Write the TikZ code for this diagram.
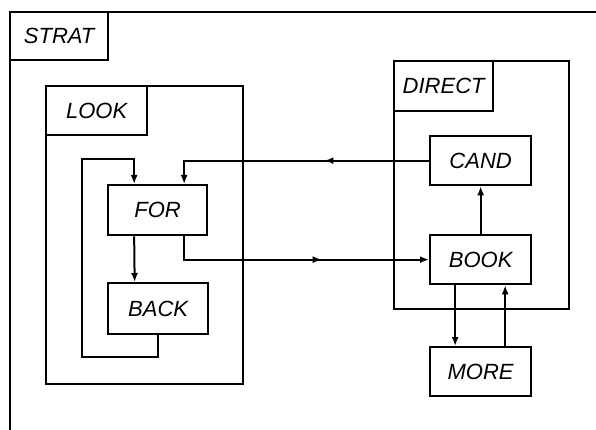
\documentclass[tikz,border=0pt]{standalone}
\usepackage{fontspec}
\setmainfont{Liberation Sans}
\usetikzlibrary{arrows.meta,decorations.markings}
\tikzset{
  every node/.style={font=\fontsize{22}{24}\selectfont\itshape},
  bx/.style={draw, line width=2.3pt, inner sep=0pt, anchor=north west},
  ln/.style={line width=2pt},
  tip/.style={-{Latex[length=9pt,width=7pt]}},
  midarr/.style={postaction={decorate}, decoration={markings, mark=at position #1 with {\arrow{Latex[length=9pt,width=7pt]}}}}
}
\begin{document}
\begin{tikzpicture}[x=1pt,y=-1pt]
\useasboundingbox (0,0) rectangle (596,430);
\clip (0,0) rectangle (596,430);
\fill[white] (0,0) rectangle (596,430);
% containers
\node[bx, minimum width=620pt, minimum height=450pt] (strat) at (9,11) {};
\node[bx, minimum width=98pt, minimum height=48pt] (stratl) at (9,11) {STRAT};
\node[bx, minimum width=197pt, minimum height=298pt] (look) at (45,85) {};
\node[bx, minimum width=101pt, minimum height=49pt] (lookl) at (45,85) {LOOK};
\node[bx, minimum width=175pt, minimum height=248pt] (direct) at (393,60) {};
\node[bx, minimum width=99pt, minimum height=50pt] (directl) at (393,60) {DIRECT};
% boxes
\node[bx, minimum width=99pt, minimum height=50pt] (for) at (107,184) {FOR};
\node[bx, minimum width=100pt, minimum height=51pt] (back) at (107,282) {BACK};
\node[bx, minimum width=101pt, minimum height=49pt] (cand) at (429,135) {CAND};
\node[bx, minimum width=101pt, minimum height=49pt] (book) at (429,234) {BOOK};
\node[bx, minimum width=101pt, minimum height=49pt] (more) at (429,346) {MORE};
% loop coordinates
\coordinate (lp1) at (82,357);
\coordinate (lp2) at (82,159);
% connectors
\draw[ln, tip] (back.south) |- (lp1) -- (lp2) -| ([xshift=-23.5pt]for.north);
\draw[ln, tip] ([xshift=-23.5pt]for.south) -- ([xshift=-23.5pt]back.north);
\draw[ln, tip, midarr=0.6] ([xshift=26.5pt]for.south) |- (book.west);
\draw[ln, tip, midarr=0.39] (cand.west) -| ([xshift=26.5pt]for.north);
\draw[ln, tip] (book.north) -- (cand.south);
\draw[ln, tip] ([xshift=-25.5pt]book.south) -- ([xshift=-25.5pt]more.north);
\draw[ln, tip] ([xshift=24.5pt]more.north) -- ([xshift=24.5pt]book.south);
\end{tikzpicture}
\end{document}
